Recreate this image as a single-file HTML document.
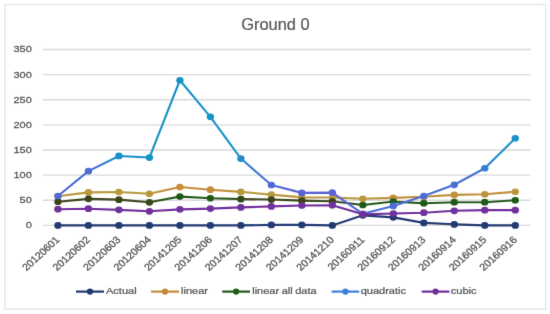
<!DOCTYPE html>
<html><head><meta charset="utf-8"><style>
html,body{margin:0;padding:0;background:#fff;}
body{width:550px;height:314px;overflow:hidden;}
svg{display:block;}
text{font-family:"Liberation Sans",sans-serif;}
</style></head><body>
<svg width="550" height="314" viewBox="0 0 550 314">
<defs><filter id="b" x="-5%" y="-5%" width="110%" height="110%"><feConvolveMatrix order="3" kernelMatrix="0.00694 0.06944 0.00694 0.06944 0.69444 0.06944 0.00694 0.06944 0.00694" divisor="1" preserveAlpha="false" edgeMode="none"/></filter>
<linearGradient id="qg" gradientUnits="userSpaceOnUse" x1="0" y1="0" x2="550" y2="0"><stop offset="0.0764" stop-color="#5266d4"/><stop offset="0.1727" stop-color="#4a6ed4"/><stop offset="0.1964" stop-color="#2a88cc"/><stop offset="0.2109" stop-color="#1992c8"/><stop offset="0.4291" stop-color="#1992c8"/><stop offset="0.4764" stop-color="#4a6ed4"/><stop offset="0.5455" stop-color="#5a62d4"/><stop offset="0.6091" stop-color="#5a62d4"/><stop offset="0.6909" stop-color="#4a6ed6"/><stop offset="0.8545" stop-color="#4a6fd6"/><stop offset="0.9055" stop-color="#2090cc"/><stop offset="0.9636" stop-color="#1992c8"/></linearGradient>
<linearGradient id="tg" gradientUnits="userSpaceOnUse" x1="0" y1="0" x2="550" y2="0"><stop offset="0.0764" stop-color="#b89a3e"/><stop offset="0.2727" stop-color="#b89a3e"/><stop offset="0.3055" stop-color="#c88c3a"/><stop offset="0.4036" stop-color="#c88c3a"/><stop offset="0.4400" stop-color="#b89a3e"/><stop offset="0.6273" stop-color="#b89a3e"/><stop offset="0.6764" stop-color="#bc963c"/><stop offset="0.7182" stop-color="#c2903a"/><stop offset="0.9091" stop-color="#c0923a"/><stop offset="0.9455" stop-color="#b89a3e"/></linearGradient>
<linearGradient id="gg" gradientUnits="userSpaceOnUse" x1="0" y1="0" x2="550" y2="0"><stop offset="0.0764" stop-color="#3a4419"/><stop offset="0.2636" stop-color="#3a4419"/><stop offset="0.3000" stop-color="#1f5a17"/><stop offset="0.4091" stop-color="#1f5a17"/><stop offset="0.4455" stop-color="#3a4419"/><stop offset="0.6218" stop-color="#3a4419"/><stop offset="0.6582" stop-color="#1f5a17"/><stop offset="0.9636" stop-color="#1f5a17"/></linearGradient>
</defs>
<rect x="0" y="0" width="550" height="314" fill="#fff"/>
<g filter="url(#b)">
<rect x="5" y="4.6" width="540.7" height="304.6" fill="none" stroke="#eaeaea" stroke-width="1.6"/>
<text transform="translate(275.4,29.6) scale(1.05,1)" font-size="15.6" fill="#555555" text-anchor="middle" letter-spacing="0.0" stroke="#555555" stroke-width="0.2">Ground 0</text>
<line x1="42.7" y1="225.40" x2="530.5" y2="225.40" stroke="#dadada" stroke-width="1.4"/>
<text transform="translate(31.8,228.40) scale(1.16,1)" font-size="9.5" fill="#555555" text-anchor="end" letter-spacing="0.0" stroke="#555555" stroke-width="0.25">0</text>
<line x1="42.7" y1="200.27" x2="530.5" y2="200.27" stroke="#dadada" stroke-width="1.4"/>
<text transform="translate(31.8,203.27) scale(1.16,1)" font-size="9.5" fill="#555555" text-anchor="end" letter-spacing="0.0" stroke="#555555" stroke-width="0.25">50</text>
<line x1="42.7" y1="175.14" x2="530.5" y2="175.14" stroke="#dadada" stroke-width="1.4"/>
<text transform="translate(31.8,178.14) scale(1.16,1)" font-size="9.5" fill="#555555" text-anchor="end" letter-spacing="0.0" stroke="#555555" stroke-width="0.25">100</text>
<line x1="42.7" y1="150.01" x2="530.5" y2="150.01" stroke="#dadada" stroke-width="1.4"/>
<text transform="translate(31.8,153.01) scale(1.16,1)" font-size="9.5" fill="#555555" text-anchor="end" letter-spacing="0.0" stroke="#555555" stroke-width="0.25">150</text>
<line x1="42.7" y1="124.88" x2="530.5" y2="124.88" stroke="#dadada" stroke-width="1.4"/>
<text transform="translate(31.8,127.88) scale(1.16,1)" font-size="9.5" fill="#555555" text-anchor="end" letter-spacing="0.0" stroke="#555555" stroke-width="0.25">200</text>
<line x1="42.7" y1="99.75" x2="530.5" y2="99.75" stroke="#dadada" stroke-width="1.4"/>
<text transform="translate(31.8,102.75) scale(1.16,1)" font-size="9.5" fill="#555555" text-anchor="end" letter-spacing="0.0" stroke="#555555" stroke-width="0.25">250</text>
<line x1="42.7" y1="74.62" x2="530.5" y2="74.62" stroke="#dadada" stroke-width="1.4"/>
<text transform="translate(31.8,77.62) scale(1.16,1)" font-size="9.5" fill="#555555" text-anchor="end" letter-spacing="0.0" stroke="#555555" stroke-width="0.25">300</text>
<line x1="42.7" y1="49.49" x2="530.5" y2="49.49" stroke="#dadada" stroke-width="1.4"/>
<text transform="translate(31.8,52.49) scale(1.16,1)" font-size="9.5" fill="#555555" text-anchor="end" letter-spacing="0.0" stroke="#555555" stroke-width="0.25">350</text>
<text transform="translate(60.34,240.50) scale(1.1,1) rotate(-45)" font-size="9.8" fill="#555555" text-anchor="end" letter-spacing="0.0" stroke="#555555" stroke-width="0.3">20120601</text>
<text transform="translate(90.83,240.50) scale(1.1,1) rotate(-45)" font-size="9.8" fill="#555555" text-anchor="end" letter-spacing="0.0" stroke="#555555" stroke-width="0.3">20120602</text>
<text transform="translate(121.32,240.50) scale(1.1,1) rotate(-45)" font-size="9.8" fill="#555555" text-anchor="end" letter-spacing="0.0" stroke="#555555" stroke-width="0.3">20120603</text>
<text transform="translate(151.81,240.50) scale(1.1,1) rotate(-45)" font-size="9.8" fill="#555555" text-anchor="end" letter-spacing="0.0" stroke="#555555" stroke-width="0.3">20120604</text>
<text transform="translate(182.29,240.50) scale(1.1,1) rotate(-45)" font-size="9.8" fill="#555555" text-anchor="end" letter-spacing="0.0" stroke="#555555" stroke-width="0.3">20141205</text>
<text transform="translate(212.78,240.50) scale(1.1,1) rotate(-45)" font-size="9.8" fill="#555555" text-anchor="end" letter-spacing="0.0" stroke="#555555" stroke-width="0.3">20141206</text>
<text transform="translate(243.27,240.50) scale(1.1,1) rotate(-45)" font-size="9.8" fill="#555555" text-anchor="end" letter-spacing="0.0" stroke="#555555" stroke-width="0.3">20141207</text>
<text transform="translate(273.76,240.50) scale(1.1,1) rotate(-45)" font-size="9.8" fill="#555555" text-anchor="end" letter-spacing="0.0" stroke="#555555" stroke-width="0.3">20141208</text>
<text transform="translate(304.24,240.50) scale(1.1,1) rotate(-45)" font-size="9.8" fill="#555555" text-anchor="end" letter-spacing="0.0" stroke="#555555" stroke-width="0.3">20141209</text>
<text transform="translate(334.73,240.50) scale(1.1,1) rotate(-45)" font-size="9.8" fill="#555555" text-anchor="end" letter-spacing="0.0" stroke="#555555" stroke-width="0.3">20141210</text>
<text transform="translate(365.22,240.50) scale(1.1,1) rotate(-45)" font-size="9.8" fill="#555555" text-anchor="end" letter-spacing="0.0" stroke="#555555" stroke-width="0.3">20160911</text>
<text transform="translate(395.71,240.50) scale(1.1,1) rotate(-45)" font-size="9.8" fill="#555555" text-anchor="end" letter-spacing="0.0" stroke="#555555" stroke-width="0.3">20160912</text>
<text transform="translate(426.19,240.50) scale(1.1,1) rotate(-45)" font-size="9.8" fill="#555555" text-anchor="end" letter-spacing="0.0" stroke="#555555" stroke-width="0.3">20160913</text>
<text transform="translate(456.68,240.50) scale(1.1,1) rotate(-45)" font-size="9.8" fill="#555555" text-anchor="end" letter-spacing="0.0" stroke="#555555" stroke-width="0.3">20160914</text>
<text transform="translate(487.17,240.50) scale(1.1,1) rotate(-45)" font-size="9.8" fill="#555555" text-anchor="end" letter-spacing="0.0" stroke="#555555" stroke-width="0.3">20160915</text>
<text transform="translate(517.66,240.50) scale(1.1,1) rotate(-45)" font-size="9.8" fill="#555555" text-anchor="end" letter-spacing="0.0" stroke="#555555" stroke-width="0.3">20160916</text>
<polyline points="57.94,225.40 88.43,225.40 118.92,225.40 149.41,225.40 179.89,225.40 210.38,225.40 240.87,225.40 271.36,224.90 301.84,224.90 332.33,225.40 362.82,215.35 393.31,217.36 423.79,222.89 454.28,224.39 484.77,225.40 515.26,225.40" fill="none" stroke="#243a73" stroke-width="2.1" stroke-linejoin="round" stroke-linecap="round"/>
<ellipse cx="57.94" cy="225.40" rx="3.7" ry="3.35" fill="#243a73"/>
<ellipse cx="88.43" cy="225.40" rx="3.7" ry="3.35" fill="#243a73"/>
<ellipse cx="118.92" cy="225.40" rx="3.7" ry="3.35" fill="#243a73"/>
<ellipse cx="149.41" cy="225.40" rx="3.7" ry="3.35" fill="#243a73"/>
<ellipse cx="179.89" cy="225.40" rx="3.7" ry="3.35" fill="#243a73"/>
<ellipse cx="210.38" cy="225.40" rx="3.7" ry="3.35" fill="#243a73"/>
<ellipse cx="240.87" cy="225.40" rx="3.7" ry="3.35" fill="#243a73"/>
<ellipse cx="271.36" cy="224.90" rx="3.7" ry="3.35" fill="#243a73"/>
<ellipse cx="301.84" cy="224.90" rx="3.7" ry="3.35" fill="#243a73"/>
<ellipse cx="332.33" cy="225.40" rx="3.7" ry="3.35" fill="#243a73"/>
<ellipse cx="362.82" cy="215.35" rx="3.7" ry="3.35" fill="#243a73"/>
<ellipse cx="393.31" cy="217.36" rx="3.7" ry="3.35" fill="#243a73"/>
<ellipse cx="423.79" cy="222.89" rx="3.7" ry="3.35" fill="#243a73"/>
<ellipse cx="454.28" cy="224.39" rx="3.7" ry="3.35" fill="#243a73"/>
<ellipse cx="484.77" cy="225.40" rx="3.7" ry="3.35" fill="#243a73"/>
<ellipse cx="515.26" cy="225.40" rx="3.7" ry="3.35" fill="#243a73"/>
<polyline points="57.94,196.25 88.43,192.38 118.92,191.98 149.41,193.79 179.89,187.00 210.38,189.72 240.87,191.88 271.36,194.59 301.84,197.41 332.33,197.51 362.82,198.76 393.31,197.91 423.79,196.75 454.28,194.89 484.77,194.24 515.26,191.73" fill="none" stroke="url(#tg)" stroke-width="2.1" stroke-linejoin="round" stroke-linecap="round"/>
<ellipse cx="57.94" cy="196.25" rx="3.7" ry="3.35" fill="url(#tg)"/>
<ellipse cx="88.43" cy="192.38" rx="3.7" ry="3.35" fill="url(#tg)"/>
<ellipse cx="118.92" cy="191.98" rx="3.7" ry="3.35" fill="url(#tg)"/>
<ellipse cx="149.41" cy="193.79" rx="3.7" ry="3.35" fill="url(#tg)"/>
<ellipse cx="179.89" cy="187.00" rx="3.7" ry="3.35" fill="url(#tg)"/>
<ellipse cx="210.38" cy="189.72" rx="3.7" ry="3.35" fill="url(#tg)"/>
<ellipse cx="240.87" cy="191.88" rx="3.7" ry="3.35" fill="url(#tg)"/>
<ellipse cx="271.36" cy="194.59" rx="3.7" ry="3.35" fill="url(#tg)"/>
<ellipse cx="301.84" cy="197.41" rx="3.7" ry="3.35" fill="url(#tg)"/>
<ellipse cx="332.33" cy="197.51" rx="3.7" ry="3.35" fill="url(#tg)"/>
<ellipse cx="362.82" cy="198.76" rx="3.7" ry="3.35" fill="url(#tg)"/>
<ellipse cx="393.31" cy="197.91" rx="3.7" ry="3.35" fill="url(#tg)"/>
<ellipse cx="423.79" cy="196.75" rx="3.7" ry="3.35" fill="url(#tg)"/>
<ellipse cx="454.28" cy="194.89" rx="3.7" ry="3.35" fill="url(#tg)"/>
<ellipse cx="484.77" cy="194.24" rx="3.7" ry="3.35" fill="url(#tg)"/>
<ellipse cx="515.26" cy="191.73" rx="3.7" ry="3.35" fill="url(#tg)"/>
<polyline points="57.94,201.68 88.43,198.86 118.92,199.67 149.41,202.28 179.89,196.60 210.38,198.26 240.87,199.16 271.36,199.57 301.84,200.67 332.33,201.28 362.82,204.99 393.31,201.58 423.79,203.19 454.28,202.18 484.77,202.18 515.26,200.27" fill="none" stroke="url(#gg)" stroke-width="2.1" stroke-linejoin="round" stroke-linecap="round"/>
<ellipse cx="57.94" cy="201.68" rx="3.7" ry="3.35" fill="url(#gg)"/>
<ellipse cx="88.43" cy="198.86" rx="3.7" ry="3.35" fill="url(#gg)"/>
<ellipse cx="118.92" cy="199.67" rx="3.7" ry="3.35" fill="url(#gg)"/>
<ellipse cx="149.41" cy="202.28" rx="3.7" ry="3.35" fill="url(#gg)"/>
<ellipse cx="179.89" cy="196.60" rx="3.7" ry="3.35" fill="url(#gg)"/>
<ellipse cx="210.38" cy="198.26" rx="3.7" ry="3.35" fill="url(#gg)"/>
<ellipse cx="240.87" cy="199.16" rx="3.7" ry="3.35" fill="url(#gg)"/>
<ellipse cx="271.36" cy="199.57" rx="3.7" ry="3.35" fill="url(#gg)"/>
<ellipse cx="301.84" cy="200.67" rx="3.7" ry="3.35" fill="url(#gg)"/>
<ellipse cx="332.33" cy="201.28" rx="3.7" ry="3.35" fill="url(#gg)"/>
<ellipse cx="362.82" cy="204.99" rx="3.7" ry="3.35" fill="url(#gg)"/>
<ellipse cx="393.31" cy="201.58" rx="3.7" ry="3.35" fill="url(#gg)"/>
<ellipse cx="423.79" cy="203.19" rx="3.7" ry="3.35" fill="url(#gg)"/>
<ellipse cx="454.28" cy="202.18" rx="3.7" ry="3.35" fill="url(#gg)"/>
<ellipse cx="484.77" cy="202.18" rx="3.7" ry="3.35" fill="url(#gg)"/>
<ellipse cx="515.26" cy="200.27" rx="3.7" ry="3.35" fill="url(#gg)"/>
<polyline points="57.94,196.00 88.43,171.17 118.92,155.94 149.41,157.55 179.89,80.25 210.38,116.84 240.87,158.55 271.36,184.99 301.84,192.88 332.33,192.58 362.82,213.84 393.31,205.90 423.79,196.00 454.28,184.79 484.77,168.25 515.26,138.25" fill="none" stroke="url(#qg)" stroke-width="2.1" stroke-linejoin="round" stroke-linecap="round"/>
<ellipse cx="57.94" cy="196.00" rx="3.7" ry="3.35" fill="url(#qg)"/>
<ellipse cx="88.43" cy="171.17" rx="3.7" ry="3.35" fill="url(#qg)"/>
<ellipse cx="118.92" cy="155.94" rx="3.7" ry="3.35" fill="url(#qg)"/>
<ellipse cx="149.41" cy="157.55" rx="3.7" ry="3.35" fill="url(#qg)"/>
<ellipse cx="179.89" cy="80.25" rx="3.7" ry="3.35" fill="url(#qg)"/>
<ellipse cx="210.38" cy="116.84" rx="3.7" ry="3.35" fill="url(#qg)"/>
<ellipse cx="240.87" cy="158.55" rx="3.7" ry="3.35" fill="url(#qg)"/>
<ellipse cx="271.36" cy="184.99" rx="3.7" ry="3.35" fill="url(#qg)"/>
<ellipse cx="301.84" cy="192.88" rx="3.7" ry="3.35" fill="url(#qg)"/>
<ellipse cx="332.33" cy="192.58" rx="3.7" ry="3.35" fill="url(#qg)"/>
<ellipse cx="362.82" cy="213.84" rx="3.7" ry="3.35" fill="url(#qg)"/>
<ellipse cx="393.31" cy="205.90" rx="3.7" ry="3.35" fill="url(#qg)"/>
<ellipse cx="423.79" cy="196.00" rx="3.7" ry="3.35" fill="url(#qg)"/>
<ellipse cx="454.28" cy="184.79" rx="3.7" ry="3.35" fill="url(#qg)"/>
<ellipse cx="484.77" cy="168.25" rx="3.7" ry="3.35" fill="url(#qg)"/>
<ellipse cx="515.26" cy="138.25" rx="3.7" ry="3.35" fill="url(#qg)"/>
<polyline points="57.94,209.22 88.43,208.71 118.92,209.87 149.41,211.28 179.89,209.37 210.38,208.61 240.87,207.41 271.36,206.40 301.84,205.50 332.33,205.20 362.82,214.34 393.31,213.49 423.79,212.68 454.28,210.82 484.77,210.17 515.26,210.17" fill="none" stroke="#71309c" stroke-width="2.1" stroke-linejoin="round" stroke-linecap="round"/>
<ellipse cx="57.94" cy="209.22" rx="3.7" ry="3.35" fill="#71309c"/>
<ellipse cx="88.43" cy="208.71" rx="3.7" ry="3.35" fill="#71309c"/>
<ellipse cx="118.92" cy="209.87" rx="3.7" ry="3.35" fill="#71309c"/>
<ellipse cx="149.41" cy="211.28" rx="3.7" ry="3.35" fill="#71309c"/>
<ellipse cx="179.89" cy="209.37" rx="3.7" ry="3.35" fill="#71309c"/>
<ellipse cx="210.38" cy="208.61" rx="3.7" ry="3.35" fill="#71309c"/>
<ellipse cx="240.87" cy="207.41" rx="3.7" ry="3.35" fill="#71309c"/>
<ellipse cx="271.36" cy="206.40" rx="3.7" ry="3.35" fill="#71309c"/>
<ellipse cx="301.84" cy="205.50" rx="3.7" ry="3.35" fill="#71309c"/>
<ellipse cx="332.33" cy="205.20" rx="3.7" ry="3.35" fill="#71309c"/>
<ellipse cx="362.82" cy="214.34" rx="3.7" ry="3.35" fill="#71309c"/>
<ellipse cx="393.31" cy="213.49" rx="3.7" ry="3.35" fill="#71309c"/>
<ellipse cx="423.79" cy="212.68" rx="3.7" ry="3.35" fill="#71309c"/>
<ellipse cx="454.28" cy="210.82" rx="3.7" ry="3.35" fill="#71309c"/>
<ellipse cx="484.77" cy="210.17" rx="3.7" ry="3.35" fill="#71309c"/>
<ellipse cx="515.26" cy="210.17" rx="3.7" ry="3.35" fill="#71309c"/>
<line x1="76" y1="291.6" x2="104" y2="291.6" stroke="#243a73" stroke-width="2.2"/>
<ellipse cx="90.00" cy="291.6" rx="3.2" ry="3.1" fill="#243a73"/>
<text transform="translate(106,293.70) scale(1.125,1)" font-size="9.8" fill="#555555" letter-spacing="0.0" word-spacing="-0.5" stroke="#555555" stroke-width="0.25">Actual</text>
<line x1="151" y1="291.6" x2="179" y2="291.6" stroke="#c38b3b" stroke-width="2.2"/>
<ellipse cx="165.00" cy="291.6" rx="3.2" ry="3.1" fill="#c38b3b"/>
<text transform="translate(181,293.70) scale(1.125,1)" font-size="9.8" fill="#555555" letter-spacing="0.0" word-spacing="-0.5" stroke="#555555" stroke-width="0.25">linear</text>
<line x1="222.2" y1="291.6" x2="250" y2="291.6" stroke="#225b19" stroke-width="2.2"/>
<ellipse cx="236.10" cy="291.6" rx="3.2" ry="3.1" fill="#225b19"/>
<text transform="translate(252.2,293.70) scale(1.125,1)" font-size="9.8" fill="#555555" letter-spacing="0.0" word-spacing="-0.5" stroke="#555555" stroke-width="0.25">linear all data</text>
<line x1="331.6" y1="291.6" x2="359.2" y2="291.6" stroke="#3d80d8" stroke-width="2.2"/>
<ellipse cx="345.40" cy="291.6" rx="3.2" ry="3.1" fill="#3d80d8"/>
<text transform="translate(360.7,293.70) scale(1.125,1)" font-size="9.8" fill="#555555" letter-spacing="0.0" word-spacing="-0.5" stroke="#555555" stroke-width="0.25">quadratic</text>
<line x1="421.7" y1="291.6" x2="449.4" y2="291.6" stroke="#71309c" stroke-width="2.2"/>
<ellipse cx="435.55" cy="291.6" rx="3.2" ry="3.1" fill="#71309c"/>
<text transform="translate(450.8,293.70) scale(1.125,1)" font-size="9.8" fill="#555555" letter-spacing="0.0" word-spacing="-0.5" stroke="#555555" stroke-width="0.25">cubic</text>
</g>
</svg>
</body></html>
